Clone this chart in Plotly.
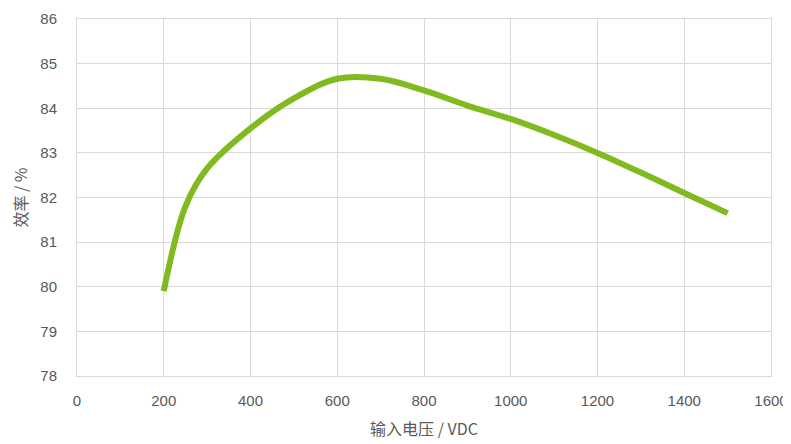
import plotly.graph_objects as go

voltage = [200, 250, 300, 400, 500, 600, 700, 800, 900, 1000, 1100, 1200, 1300, 1400, 1500]
efficiency = [79.9, 81.8, 82.65, 83.55, 84.22, 84.66, 84.66, 84.4, 84.06, 83.76, 83.4, 83.0, 82.56, 82.1, 81.65]

x_ticks = [0, 200, 400, 600, 800, 1000, 1200, 1400, 1600]
y_ticks = [78, 79, 80, 81, 82, 83, 84, 85, 86]

grid = "#d9d9d9"
txt = "#595959"
font_family = "Liberation Sans, Arial, Noto Sans CJK SC"

fig = go.Figure()
fig.add_trace(go.Scatter(
    x=voltage, y=efficiency, mode="lines",
    line=dict(color="#80BA1E", width=6, shape="spline", smoothing=1.0),
    showlegend=False,
))

# page body has an 8px default margin, so margins are offset accordingly
fig.update_layout(
    width=791, height=444,
    margin=dict(l=69, r=28, t=11, b=76),
    paper_bgcolor="white", plot_bgcolor="white",
    font=dict(family=font_family, size=15, color=txt),
    xaxis=dict(
        range=[0, 1600], tickvals=x_ticks, ticktext=[str(v) for v in x_ticks],
        showgrid=True, gridcolor=grid, gridwidth=1,
        showline=True, linecolor=grid, linewidth=1, mirror=True,
        zeroline=False, ticks="", ticklabelstandoff=11, automargin=False,
        title=dict(text="输入电压 / VDC", font=dict(size=16, color=txt, family="Noto Sans CJK SC"), standoff=15),
    ),
    yaxis=dict(
        range=[78, 86], tickvals=y_ticks, ticktext=[str(v) for v in y_ticks],
        showgrid=True, gridcolor=grid, gridwidth=1,
        showline=True, linecolor=grid, linewidth=1, mirror=True,
        zeroline=False, ticks="", ticklabelstandoff=16, automargin=False,
        title=dict(text="效率 / %", font=dict(size=16, color=txt, family="Noto Sans CJK SC"), standoff=10),
    ),
)

fig.write_html("out.html")
